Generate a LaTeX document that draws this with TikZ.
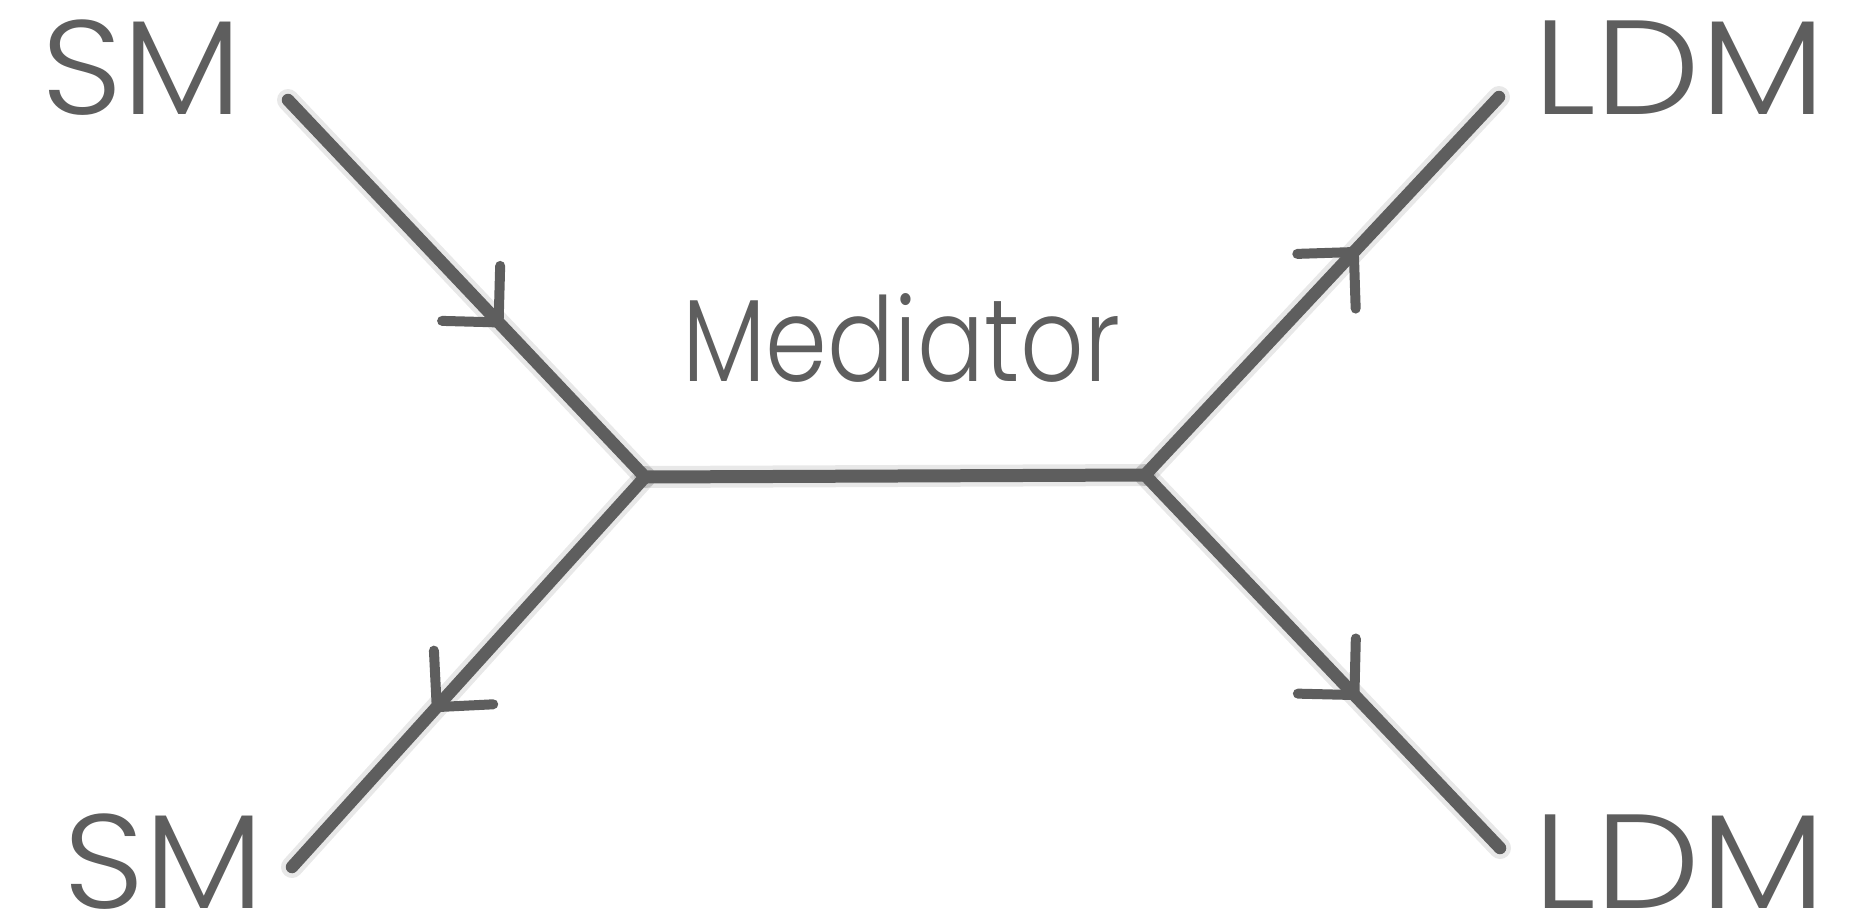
\documentclass[tikz,border=0pt]{standalone}
\usepackage{fontspec}
\setmainfont{Poppins}[UprightFont={* Light}]
\newfontfamily\smfont{Poppins}[UprightFont={* Light}, FakeStretch=1.06]
\newfontfamily\ldmfont{Poppins}[UprightFont={* Light}, FakeStretch=1.11]
\newfontfamily\medfont{Poppins}[UprightFont={* Light}, FakeStretch=0.85]
\usetikzlibrary{decorations.markings,calc}
\definecolor{ink}{HTML}{5E5E5E}
\tikzset{
  x=1pt, y=-1pt,
  lbl/.style={anchor=base west, inner sep=0pt, text=ink},
  big/.style={font=\fontsize{134}{134}\selectfont},
  brush/.style={draw=ink, line width=12.5pt, line cap=round},
  shade/.style={draw=black, opacity=0.09, line width=22pt, line cap=round, shift={(3pt,-7pt)}},
  chev/.style={postaction={decorate, decoration={markings,
     mark=at position 0.59 with {\draw[ink, line width=10pt, line cap=round] (-40pt,40pt) -- (0,0) -- (-40pt,-40pt);}}}}
}
\begin{document}
\begin{tikzpicture}
\useasboundingbox (0,0) rectangle (1865,922);
% text
\node[lbl, big] (smtop) at (41,114) {\smfont SM};
\node[lbl, big] (ldmtop) at (1533,114) {\ldmfont LDM};
\node[lbl, big] (smbot) at (63,908) {\smfont SM};
\node[lbl, big] (ldmbot) at (1533,908) {\ldmfont LDM};
\node[lbl, font=\fontsize{117}{117}\selectfont] (med) at (682,381) {\medfont Mediator};
% points
\coordinate (tl) at (288,100);
\coordinate (bl) at (292,867);
\coordinate (tr) at (1499,97);
\coordinate (br) at (1500,848);
\coordinate (vl) at (645,477);
\coordinate (vr) at (1145,475);
% shadows
\foreach \a/\b in {tl/vl, vl/bl, vr/tr, vr/br, vl/vr}
  \draw[shade] (\a) -- (\b);
% lines
\draw[brush, chev] (tl) -- (vl);
\draw[brush, chev] (vl) -- (bl);
\draw[brush, chev] (vr) -- (tr);
\draw[brush, chev] (vr) -- (br);
\draw[brush, line width=13pt] (vl) -- (vr);
\end{tikzpicture}
\end{document}
